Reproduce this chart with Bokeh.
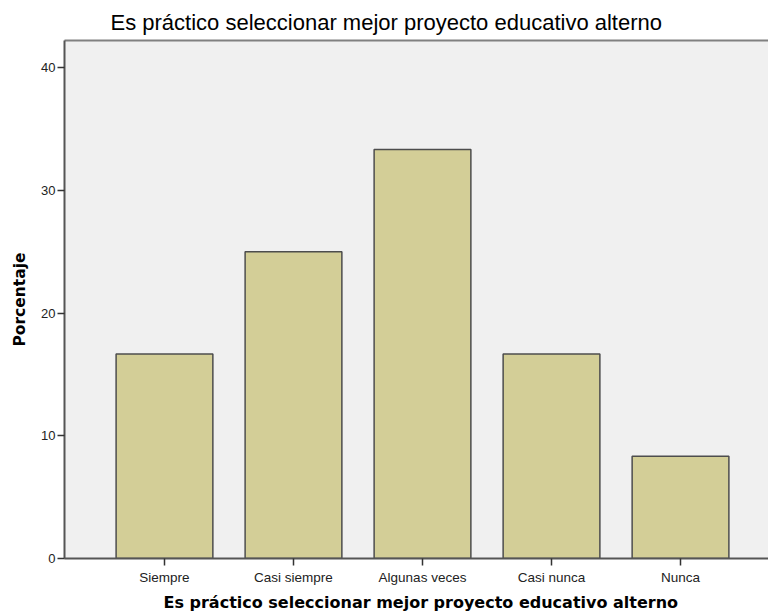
from bokeh.plotting import figure
from bokeh.models import Range1d, FixedTicker, Title, LinearAxis
from bokeh.embed import file_html
from bokeh.resources import INLINE

categories = ["Siempre", "Casi siempre", "Algunas veces", "Casi nunca", "Nunca"]
percentages = [16.67, 25.0, 33.33, 16.67, 8.33]
y_ticks = [0, 10, 20, 30, 40]
title_text = "Es práctico seleccionar mejor  proyecto educativo alterno"
y_label = "Porcentaje"

positions = list(range(len(categories)))

p = figure(width=768, height=615, output_backend="svg", toolbar_location=None,
           x_range=Range1d(-0.775, 4.682), y_range=Range1d(0, 42.2),
           min_border_left=64, min_border_right=0, min_border_top=40, min_border_bottom=56)

p.background_fill_color = "#F0F0F0"
p.border_fill_color = "white"
p.outline_line_color = None
p.grid.visible = False

p.vbar(x=positions, top=percentages, width=0.75, bottom=0,
       fill_color="#D3CE97", line_color="#4d4d4d", line_width=1.5)

font = "Liberation Sans"
bold_font = "DejaVu Sans"

# Y axis
ya = p.yaxis[0]
ya.ticker = FixedTicker(ticks=y_ticks)
ya.axis_label = y_label
ya.axis_label_text_font = bold_font
ya.axis_label_text_font_style = "bold"
ya.axis_label_text_font_size = "15.5px"
ya.axis_label_text_color = "black"
ya.axis_label_standoff = 9
ya.major_label_text_font = font
ya.major_label_text_font_size = "13px"
ya.major_label_text_color = "#222222"
ya.major_label_standoff = 2
ya.major_tick_out = 7
ya.major_tick_in = 0
ya.minor_tick_out = 0
ya.minor_tick_in = 0
ya.axis_line_color = "#555555"
ya.axis_line_width = 2
ya.major_tick_line_color = "#333333"
ya.major_tick_line_width = 1.5

# X axis
xa = p.xaxis[0]
xa.ticker = FixedTicker(ticks=positions)
xa.major_label_overrides = {i: c for i, c in zip(positions, categories)}
xa.major_label_text_font = font
xa.major_label_text_font_size = "13.5px"
xa.major_label_text_color = "#222222"
xa.major_label_standoff = 4
xa.major_tick_out = 7
xa.major_tick_in = 0
xa.minor_tick_out = 0
xa.minor_tick_in = 0
xa.axis_line_color = "#555555"
xa.axis_line_width = 2
xa.major_tick_line_color = "#333333"
xa.major_tick_line_width = 1.5

# top border of the plot frame
top_axis = LinearAxis(ticker=FixedTicker(ticks=[]), axis_line_color="#808080",
                      axis_line_width=2, major_tick_out=0, major_tick_in=0,
                      minor_tick_out=0, minor_tick_in=0,
                      major_label_text_font_size="0px")
p.add_layout(top_axis, "above")

# Title (top)
p.title.text = title_text
p.title.text_font = font
p.title.text_font_style = "normal"
p.title.text_font_size = "22px"
p.title.text_color = "black"
p.title.align = "left"
p.title.offset = 46
p.title.standoff = 12

# X axis label as a below title
xt = Title(text=title_text, align="left", offset=99, text_font=bold_font,
           text_font_style="bold", text_font_size="16px", text_color="black",
           standoff=7)
p.add_layout(xt, "below")

open("out.html", "w").write(file_html(p, INLINE))
